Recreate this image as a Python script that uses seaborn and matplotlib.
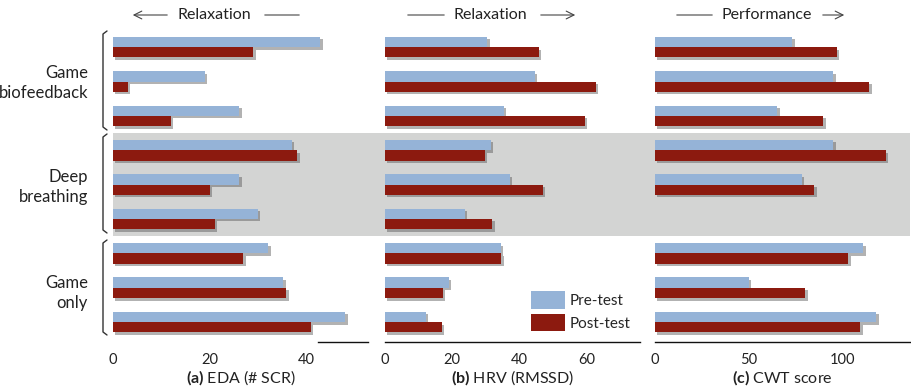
import pandas as pd
import numpy as np
import matplotlib
matplotlib.use("Agg")
import matplotlib.pyplot as plt
import matplotlib.patheffects as pe
from matplotlib.lines import Line2D
from matplotlib.patches import Rectangle, FancyArrowPatch
import seaborn as sns

# --- data (3 groups x 3 participants, pre vs post) ---
rows = ["g1", "g2", "g3", "d1", "d2", "d3", "o1", "o2", "o3"]
group_names = ["Game\nbiofeedback", "Deep\nbreathing", "Game\nonly"]
phases = ["Pre-test", "Post-test"]

eda_pre = [42.9, 19.0, 26.1, 37.0, 26.1, 30.0, 32.1, 35.2, 48.1]
eda_post = [29.0, 3.1, 12.0, 38.1, 20.0, 21.1, 27.0, 35.9, 40.9]
hrv_pre = [30.5, 44.6, 35.4, 31.5, 37.2, 23.8, 34.5, 19.0, 12.1]
hrv_post = [45.8, 62.8, 59.5, 29.8, 47.0, 32.0, 34.7, 17.2, 16.9]
cwt_pre = [73.1, 95.1, 65.1, 95.1, 78.2, np.nan, 111.0, 49.9, 117.9]
cwt_post = [97.0, 114.2, 89.7, 123.2, 85.0, np.nan, 103.0, 80.2, 109.4]

panel_titles = ["(a)", "(b)", "(c)"]
panel_labels = ["EDA (# SCR)", "HRV (RMSSD)", "CWT score"]
panel_ticks = [[0, 20, 40], [0, 20, 40, 60], [0, 50, 100]]
panel_xmax = [52.8, 76, 136]
spine_bounds = [(42.5, 52.8), (0, 76), (0, 136)]

PRE = "#95B3D7"
POST = "#8C1A0F"
BAND = "#D3D4D3"
W, H = 912, 388

sns.set_style("white")
plt.rcParams["font.family"] = ["Lato", "DejaVu Sans"]
plt.rcParams["mathtext.fontset"] = "custom"
plt.rcParams["mathtext.bf"] = "Lato:bold"
plt.rcParams["mathtext.rm"] = "Lato"


def fx(px):
    return px / W


def fy(py):
    return 1 - py / H


def make_frame(pre, post):
    return pd.DataFrame({
        "row": rows * 2,
        "phase": [phases[0]] * len(rows) + [phases[1]] * len(rows),
        "value": list(pre) + list(post),
    })


frames = [make_frame(eda_pre, eda_post), make_frame(hrv_pre, hrv_post),
          make_frame(cwt_pre, cwt_post)]

fig = plt.figure(figsize=(W / 100, H / 100), dpi=100)

# grey band behind the "Deep breathing" rows, across all panels
fig.patches.append(Rectangle((fx(113), fy(236)), fx(910) - fx(113), fy(133) - fy(236),
                             transform=fig.transFigure, facecolor=BAND,
                             edgecolor="none", zorder=-5))

lefts = [113, 385, 655]
shadow = [pe.SimplePatchShadow(offset=(1.8, -1.8), shadow_rgbFace="#555555", alpha=0.45),
          pe.Normal()]

axes = []
for i, df in enumerate(frames):
    ax = fig.add_axes([fx(lefts[i]), fy(342), fx(255), fy(30) - fy(342)])
    ax.set_zorder(2)
    ax.patch.set_alpha(0)
    sns.barplot(data=df, y="row", x="value", hue="phase", order=rows,
                hue_order=phases, palette=[PRE, POST], orient="h",
                width=0.6, saturation=1, legend=False, ax=ax, zorder=3,
                linewidth=0)
    for p in ax.patches:
        p.set_linewidth(0)
        p.set_path_effects(shadow)
    ax.set_xlim(0, panel_xmax[i])
    ax.set_ylim(8.58, -0.5)
    ax.set_yticks([])
    ax.set_ylabel("")
    ax.set_xticks(panel_ticks[i])
    ax.tick_params(axis="x", length=0, pad=8, labelsize=10.5, colors="#222222")
    for s in ["top", "right", "left"]:
        ax.spines[s].set_visible(False)
    ax.spines["bottom"].set_bounds(*spine_bounds[i])
    ax.spines["bottom"].set_color("#111111")
    ax.spines["bottom"].set_linewidth(1.0)
    ax.set_xlabel(r"$\bf{" + panel_titles[i] + "}$ " + panel_labels[i],
                  fontsize=11.5, labelpad=1, color="#222222")
    axes.append(ax)

# legend in panel (b)
handles = [Rectangle((0, 0), 1, 1, facecolor=c, edgecolor="none") for c in [PRE, POST]]
axes[1].legend(handles, phases, loc="lower left", bbox_to_anchor=(0.52, -0.01),
               frameon=False, fontsize=11, handlelength=2.2, handleheight=1.4,
               handletextpad=0.3, labelspacing=0.3)

# group labels with brackets on the left
label_y = [83, 187, 293]
brackets = [(31, 130), (134, 233), (240, 335)]
for name, ly, (b0, b1) in zip(group_names, label_y, brackets):
    fig.text(fx(88), fy(ly), name, ha="right", va="center", fontsize=12,
             multialignment="right", color="#222222", linespacing=1.25)
    fig.add_artist(Line2D([fx(107), fx(103), fx(103), fx(107)],
                          [fy(b0), fy(b0 + 3), fy(b1 - 3), fy(b1)],
                          transform=fig.transFigure, color="#333333", lw=1.0))

# direction annotations on top
arrow_kw = dict(arrowstyle="->", color="#444444", lw=0.8, mutation_scale=14)
line_kw = dict(arrowstyle="-", color="#444444", lw=0.8)
top = [
    ("Relaxation", 214, (170, 130, arrow_kw), (262, 302, line_kw)),
    ("Relaxation", 490, (405, 447, line_kw), (538, 578, arrow_kw)),
    ("Performance", 767, (674, 715, line_kw), (820, 847, arrow_kw)),
]
for text, cx, seg1, seg2 in top:
    fig.text(fx(cx), fy(15), text, ha="center", va="center", fontsize=11.5,
             color="#222222")
    for x0, x1, kw in (seg1, seg2):
        fig.add_artist(FancyArrowPatch((fx(x0), fy(15)), (fx(x1), fy(15)),
                                       transform=fig.transFigure, **kw))

fig.savefig("out.png", dpi=100)
